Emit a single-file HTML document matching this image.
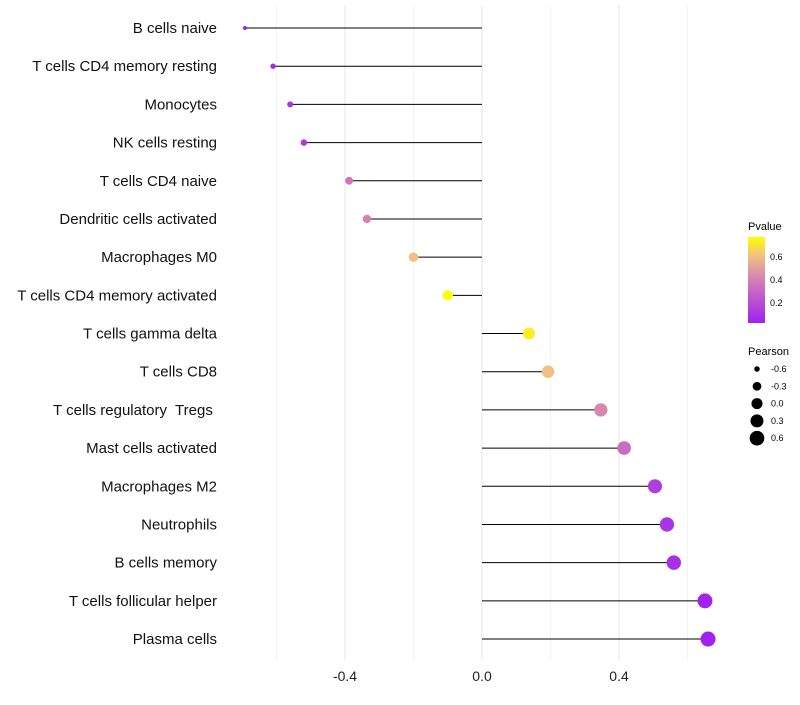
<!DOCTYPE html>
<html><head><meta charset="utf-8"><style>
body{margin:0;background:#fff;font-family:"Liberation Sans",sans-serif}
text{white-space:pre}
</style></head><body>
<svg id="c" width="800" height="700" xmlns="http://www.w3.org/2000/svg" font-family="Liberation Sans, sans-serif">
<defs><linearGradient id="pg" x1="0" y1="1" x2="0" y2="0">
<stop offset="0" stop-color="#a020f0"/><stop offset="0.5" stop-color="#d47fb6"/><stop offset="0.78" stop-color="#f0c080"/><stop offset="1" stop-color="#ffff00"/></linearGradient></defs>
<g id="grid"></g><g id="marks"></g><g id="labels"></g>
<g>
<text x="748" y="230" font-size="11">Pvalue</text>
<rect x="748" y="237" width="17" height="86" fill="url(#pg)"/>
<text x="770" y="260" font-size="9">0.6</text><text x="770" y="283" font-size="9">0.4</text><text x="770" y="306" font-size="9">0.2</text>
</g>
<g id="sizeleg">
<text x="748" y="355" font-size="11">Pearson</text>
</g>
</svg>
<script>
const categories=["B cells naive","T cells CD4 memory resting","Monocytes","NK cells resting","T cells CD4 naive","Dendritic cells activated","Macrophages M0","T cells CD4 memory activated","T cells gamma delta","T cells CD8","T cells regulatory  Tregs ","Mast cells activated","Macrophages M2","Neutrophils","B cells memory","T cells follicular helper","Plasma cells"];
const pearson=[-0.692,-0.61,-0.56,-0.52,-0.388,-0.336,-0.20,-0.10,0.137,0.193,0.347,0.415,0.505,0.54,0.56,0.651,0.66];
const pvalue=[0.02,0.05,0.1,0.12,0.35,0.4,0.6,0.76,0.72,0.6,0.42,0.32,0.13,0.1,0.08,0.03,0.02];
const xTicks=[-0.4,0,0.4];
const xTickLabels=["-0.4","0.0","0.4"];
const gridVals=[-0.6,-0.4,-0.2,0,0.2,0.4,0.6];
const sizeLegendVals=[-0.6,-0.3,0.0,0.3,0.6];
const NS="http://www.w3.org/2000/svg";
const X=v=>482+v*342.5;
const Y=i=>28+i*38.19;
const R=v=>Math.sqrt(4+(v+0.692)*38.5);
function lerp(a,b,t){return a.map((x,k)=>Math.round(x+(b[k]-x)*t));}
const stops=[[0.017,[160,32,240]],[0.39,[212,127,182]],[0.6,[240,192,128]],[0.765,[255,255,0]]];
function col(p){p=Math.max(stops[0][0],Math.min(stops[3][0],p));for(let k=0;k<3;k++){if(p<=stops[k+1][0]){const t=(p-stops[k][0])/(stops[k+1][0]-stops[k][0]);const c=lerp(stops[k][1],stops[k+1][1],t);return `rgb(${c})`;}}}
function mk(tag,at,parent){const e=document.createElementNS(NS,tag);for(const k in at)e.setAttribute(k,at[k]);parent.appendChild(e);return e;}
const grid=document.getElementById('grid'),marks=document.getElementById('marks'),labels=document.getElementById('labels');
gridVals.forEach(v=>{const l=mk('line',{x1:X(v),x2:X(v),y1:5,y2:660,stroke:'#ebebeb','stroke-width':xTicks.includes(v)?1.2:0.6},grid);

});
xTicks.forEach((v,i)=>{const t=mk('text',{x:X(v),y:681,'font-size':14,'text-anchor':'middle',fill:'#222'},labels);t.textContent=xTickLabels[i];

});
categories.forEach((c,i)=>{const t=mk('text',{x:217,y:Y(i)+5,'font-size':15,'text-anchor':'end',fill:'#111'},labels);t.textContent=c;


const l=mk('line',{x1:X(0),x2:X(pearson[i]),y1:Y(i),y2:Y(i),stroke:'#000','stroke-width':1},marks);


const d=mk('circle',{cx:X(pearson[i]),cy:Y(i),r:R(pearson[i]),fill:col(pvalue[i])},marks);

});
const sl=document.getElementById('sizeleg');
sizeLegendVals.forEach((v,i)=>{const y=369+i*17.3;const c=mk('circle',{cx:757,cy:y,r:R(v),fill:'#000'},sl);


const t=mk('text',{x:771,y:y+3,'font-size':9},sl);t.textContent=v.toFixed(1);});
</script>
</body></html>
